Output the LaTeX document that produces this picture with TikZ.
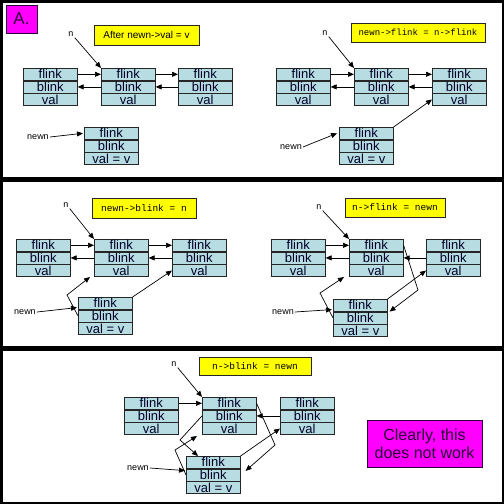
\documentclass[tikz,border=0pt]{standalone}
\usepackage{fontspec}
\setmainfont{Liberation Sans}
\newfontfamily\codefont{Liberation Mono}
\usetikzlibrary{arrows.meta}
\definecolor{cellblue}{HTML}{B7DDE3}
\definecolor{ymark}{HTML}{FFFF00}
\definecolor{mag}{HTML}{FF00FF}
\definecolor{dpurple}{HTML}{2A0038}
\newcommand\mklist[4]{%
  \node[cell, anchor=north west] (#1f) at (#2,#3) {flink};
  \node[cell, anchor=north] (#1b) at (#1f.south) {blink};
  \node[cell, anchor=north] (#1v) at (#1b.south) {#4};
}
\tikzset{
  cell/.style={draw=black!85, fill=cellblue, line width=0.6pt, minimum width=54pt,
    minimum height=12pt, text height=9pt, text depth=0pt, inner sep=0pt, text=black!85!blue, font=\fontsize{13}{13}\selectfont},
  ptr/.style={line width=0.7pt, -{Triangle[length=6pt,width=5pt]}},
  lbl/.style={inner sep=1pt, font=\fontsize{9}{9}\selectfont},
  ybox/.style={draw=black!85, fill=ymark, line width=0.6pt, inner sep=0pt},
  mbox/.style={draw=dpurple, fill=mag, line width=0.8pt, inner sep=0pt, text=dpurple, align=center},
}
\begin{document}
\begin{tikzpicture}[x=1pt,y=-1pt]
\useasboundingbox (0,0) rectangle (504,504);
\fill[white] (0,0) rectangle (504,504);
% frame and separators
\draw[line width=2.5pt] (1.25,1.25) rectangle (502.75,502.75);
\fill[black] (0,176.5) rectangle (504,181.5);
\fill[black] (0,346) rectangle (504,350.5);

% ---------- Panel A (left) ----------
\node[mbox, minimum width=31pt, minimum height=28pt, font=\fontsize{17}{17}\selectfont] (Abox) at (21.5,19) {A.};
\node[ybox, minimum width=105pt, minimum height=20pt, font=\fontsize{10}{10}\selectfont] (Ay) at (146.5,35) {After newn->val = v};
\mklist{AL}{23}{68}{val}
\mklist{AM}{101}{68}{val}
\mklist{AR}{178}{68}{val}
\mklist{AN}{84}{127}{val = v}
\node[lbl] (An) at (71,34) {n};
\node[lbl] (Anw) at (38,137) {newn};
\draw[ptr] (ALf.east) -- (AMf.west);
\draw[ptr] (AMb.west) -- (ALb.east);
\draw[ptr] (AMf.east) -- (ARf.west);
\draw[ptr] (ARb.west) -- (AMb.east);
\draw[ptr] (An.south east) -- (AMf.north west);
\draw[ptr] (Anw.east) -- ([xshift=-1pt]ANf.west);

% ---------- Panel B (right top) ----------
\node[ybox, minimum width=134pt, minimum height=19pt, font=\codefont\fontsize{9}{9}\selectfont] (By) at (418,32.5) {newn->flink = n->flink};
\mklist{BL}{276}{68}{val}
\mklist{BM}{354}{68}{val}
\mklist{BR}{432}{68}{val}
\mklist{BN}{339}{127}{val = v}
\node[lbl] (Bn) at (325,33) {n};
\node[lbl] (Bnw) at (291,147) {newn};
\draw[ptr] (BLf.east) -- (BMf.west);
\draw[ptr] (BMb.west) -- (BLb.east);
\draw[ptr] (BMf.east) -- (BRf.west);
\draw[ptr] (BRb.west) -- (BMb.east);
\draw[ptr] (Bn.south east) -- (BMf.north west);
\draw[ptr] (Bnw.east) -- ([xshift=-2pt]BNf.west);
\draw[ptr] (BNf.north east) -- (BRv.west);

% ---------- Panel C (middle left) ----------
\node[ybox, minimum width=104pt, minimum height=20pt, font=\codefont\fontsize{9.5}{9.5}\selectfont] (Cy) at (144,208) {newn->blink = n};
\mklist{CL}{16}{239}{val}
\mklist{CM}{94}{239}{val}
\mklist{CR}{172}{239}{val}
\mklist{CN}{78}{297}{val = v}
\node[lbl] (Cn) at (66,205) {n};
\node[lbl] (Cnw) at (25,312) {newn};
\coordinate (Ctip) at (90,277);
\draw[ptr] (CLf.east) -- (CMf.west);
\draw[ptr] (CMb.west) -- (CLb.east);
\draw[ptr] (CMf.east) -- (CRf.west);
\draw[ptr] (CRb.west) -- (CMb.east);
\draw[ptr] (Cn.south east) -- (CMf.north west);
\draw[ptr] (Cnw.east) -- ([xshift=-1pt,yshift=2pt]CNf.south west);
\draw[ptr] (CNb.west) -- (67,295) -- (Ctip);
\draw[ptr] (CNf.north east) -- (CRv.west);

% ---------- Panel D (middle right) ----------
\node[ybox, minimum width=100pt, minimum height=19pt, font=\codefont\fontsize{9.5}{9.5}\selectfont] (Dy) at (395,207.5) {n->flink = newn};
\mklist{DL}{271}{239}{val}
\mklist{DM}{349}{239}{val}
\mklist{DR}{426}{239}{val}
\mklist{DN}{333}{299}{val = v}
\node[lbl] (Dn) at (319,207) {n};
\node[lbl] (Dnw) at (283,312) {newn};
\coordinate (Dtip) at (344,277);
\draw[ptr] (DLf.east) -- (DMf.west);
\draw[ptr] (DMb.west) -- (DLb.east);
\draw[ptr] (DRb.west) -- (DMb.east);
\draw[ptr] (Dn.south east) -- (DMf.north west);
\draw[ptr] (Dnw.east) -- ([xshift=-1pt,yshift=2pt]DNf.south west);
\draw[ptr] (DNb.west) -- (320,293) -- (Dtip);
\draw[ptr] (DNf.north east) -- (DRv.west);
\draw[ptr] (DMf.east) -- (418,290) -- ([xshift=2pt]DNf.south east);

% ---------- Panel E (bottom) ----------
\node[ybox, minimum width=112pt, minimum height=18pt, font=\codefont\fontsize{9.5}{9.5}\selectfont] (Ey) at (255,366) {n->blink = newn};
\mklist{EL}{124}{397}{val}
\mklist{EM}{202}{397}{val}
\mklist{ER}{280}{397}{val}
\mklist{EN}{186}{456}{val = v}
\node[lbl] (En) at (174,364) {n};
\node[lbl] (Enw) at (138,468) {newn};
\coordinate (Etip1) at (198,456);
\coordinate (Etip2) at (197,436);
\draw[ptr] (ELf.east) -- (EMf.west);
\draw[ptr] (ERb.west) -- (EMb.east);
\draw[ptr] (En.south east) -- (EMf.north west);
\draw[ptr] (Enw.east) -- ([xshift=-1pt,yshift=-2pt]ENf.south west);
\draw[ptr] (EMb.west) -- (180,440) -- (Etip1);
\draw[ptr] (ENb.west) -- (175,450) -- (Etip2);
\draw[ptr] (EMf.east) -- (275,445) -- ([xshift=5pt,yshift=4pt]ENb.east);
\draw[ptr] (ENf.north east) -- (ERv.west);
\node[mbox, minimum width=115pt, minimum height=47pt, font=\fontsize{16}{18}\selectfont] (Eclear) at (424.5,443.5) {Clearly, this\\does not work};
\end{tikzpicture}
\end{document}
